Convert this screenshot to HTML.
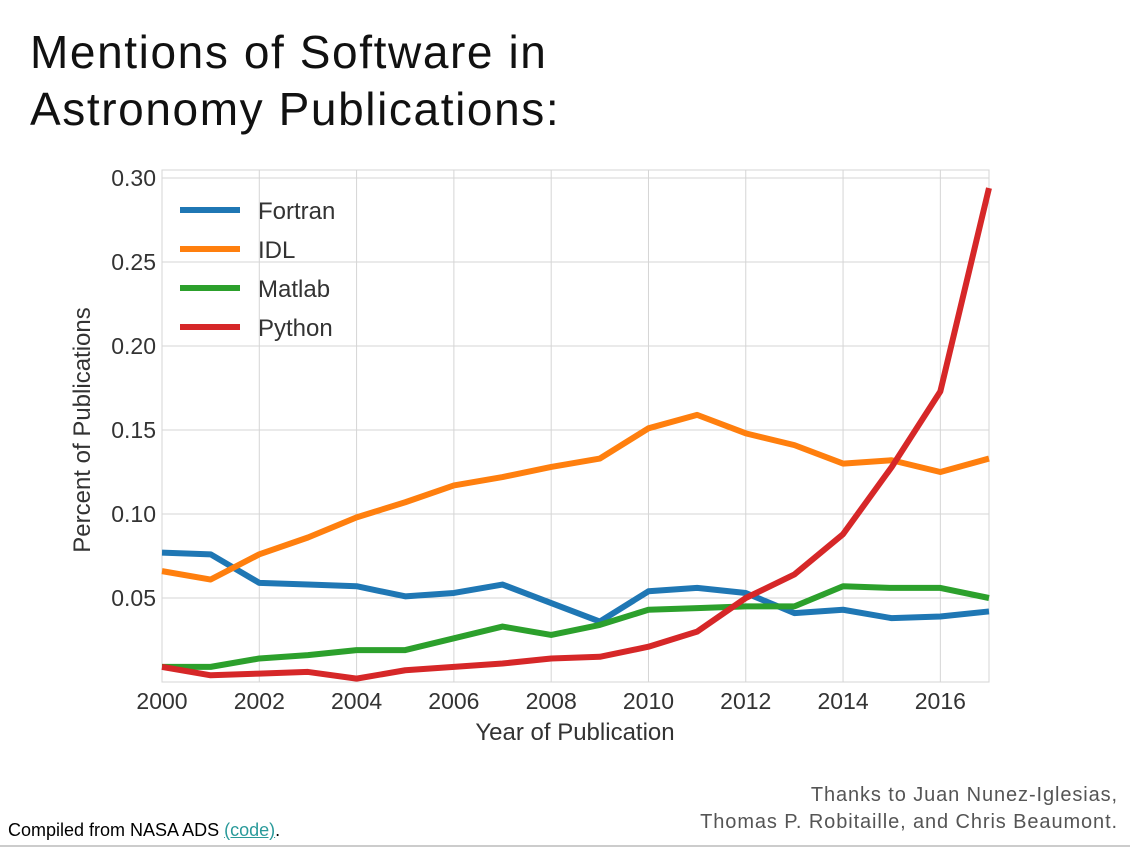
<!DOCTYPE html>
<html><head><meta charset="utf-8">
<style>
body{margin:0;width:1130px;height:848px;background:#fff;overflow:hidden;position:relative;font-family:"Liberation Sans",sans-serif;}
.title{position:absolute;left:30px;top:24px;font-size:46px;line-height:57px;color:#111;font-weight:normal;letter-spacing:1.6px;}
.credit{position:absolute;right:12px;top:782px;text-align:right;font-size:20px;line-height:27px;color:#555;letter-spacing:0.9px;}
.src{position:absolute;left:8px;top:820px;font-size:18px;color:#000;}
.src a{color:#2a9a9a;text-decoration:underline;}
.rule{position:absolute;left:0;top:845px;width:1130px;height:2px;background:#ccc;}
</style></head><body>
<div class="title">Mentions of Software in<br>Astronomy Publications:</div>
<svg id="chart" width="1130" height="848" style="position:absolute;left:0;top:0"></svg>
<div class="credit">Thanks to Juan Nunez-Iglesias,<br>Thomas P. Robitaille, and Chris Beaumont.</div>
<div class="src">Compiled from NASA ADS <a>(code)</a>.</div>
<div class="rule"></div>
<script>
const years=[2000,2001,2002,2003,2004,2005,2006,2007,2008,2009,2010,2011,2012,2013,2014,2015,2016,2017];
const fortran=[0.077,0.076,0.059,0.058,0.057,0.051,0.053,0.058,0.047,0.036,0.054,0.056,0.053,0.041,0.043,0.038,0.039,0.042];
const idl=[0.066,0.061,0.076,0.086,0.098,0.107,0.117,0.122,0.128,0.133,0.151,0.159,0.148,0.141,0.130,0.132,0.125,0.133];
const matlab=[0.009,0.009,0.014,0.016,0.019,0.019,0.026,0.033,0.028,0.034,0.043,0.044,0.045,0.045,0.057,0.056,0.056,0.050];
const python=[0.009,0.004,0.005,0.006,0.002,0.007,0.009,0.011,0.014,0.015,0.021,0.030,0.050,0.064,0.088,0.128,0.173,0.294];
const seriesNames=["Fortran","IDL","Matlab","Python"];
const xTicks=[2000,2002,2004,2006,2008,2010,2012,2014,2016];
const yTicks=[0.05,0.10,0.15,0.20,0.25,0.30];
const colors=["#1f77b4","#ff7f0e","#2ca02c","#d62728"];
const svg=document.getElementById('chart');
const NS="http://www.w3.org/2000/svg";
const L=162,R=989,T=170,B=682;
const x=v=>L+(v-2000)*(R-L)/17;
const y=v=>682-v*1680;
function mk(tag,at){const e=document.createElementNS(NS,tag);for(const k in at)e.setAttribute(k,at[k]);svg.appendChild(e);return e;}
xTicks.forEach(t=>{
 const g=mk('line',{x1:x(t),x2:x(t),y1:T,y2:B,stroke:'#d5d5d5','stroke-width':1});
 
 
 const tx=mk('text',{x:x(t),y:B+27,'text-anchor':'middle','font-size':23,fill:'#333'});
 tx.textContent=t;
 
 
});
yTicks.forEach(t=>{
 const g=mk('line',{x1:L,x2:R,y1:y(t),y2:y(t),stroke:'#d5d5d5','stroke-width':1});
 
 
 const tx=mk('text',{x:L-6,y:y(t)+8,'text-anchor':'end','font-size':23,fill:'#333'});
 tx.textContent=t.toFixed(2);
 
 
});
const fr=mk('rect',{x:L,y:T,width:R-L,height:B-T,fill:'none',stroke:'#d5d5d5','stroke-width':1});


[fortran,idl,matlab,python].forEach((s,i)=>{
 const p=mk('polyline',{points:s.map((v,j)=>x(years[j])+','+y(v)).join(' '),fill:'none',stroke:colors[i],'stroke-width':6,'stroke-linejoin':'round'});
 
 
 const ly=210+i*39;
 const ll=mk('line',{x1:180,x2:240,y1:ly,y2:ly,stroke:colors[i],'stroke-width':6});
 
 
 const lt=mk('text',{x:258,y:ly+9,'font-size':24,fill:'#333'});
 lt.textContent=seriesNames[i];
 
 
});
const xt=mk('text',{x:575,y:740,'text-anchor':'middle','font-size':24,fill:'#333'});
xt.textContent='Year of Publication';


const yt=mk('text',{x:0,y:0,'text-anchor':'middle','font-size':24,fill:'#333',transform:'translate(90,430) rotate(-90)'});
yt.textContent='Percent of Publications';


</script>
</body></html>
